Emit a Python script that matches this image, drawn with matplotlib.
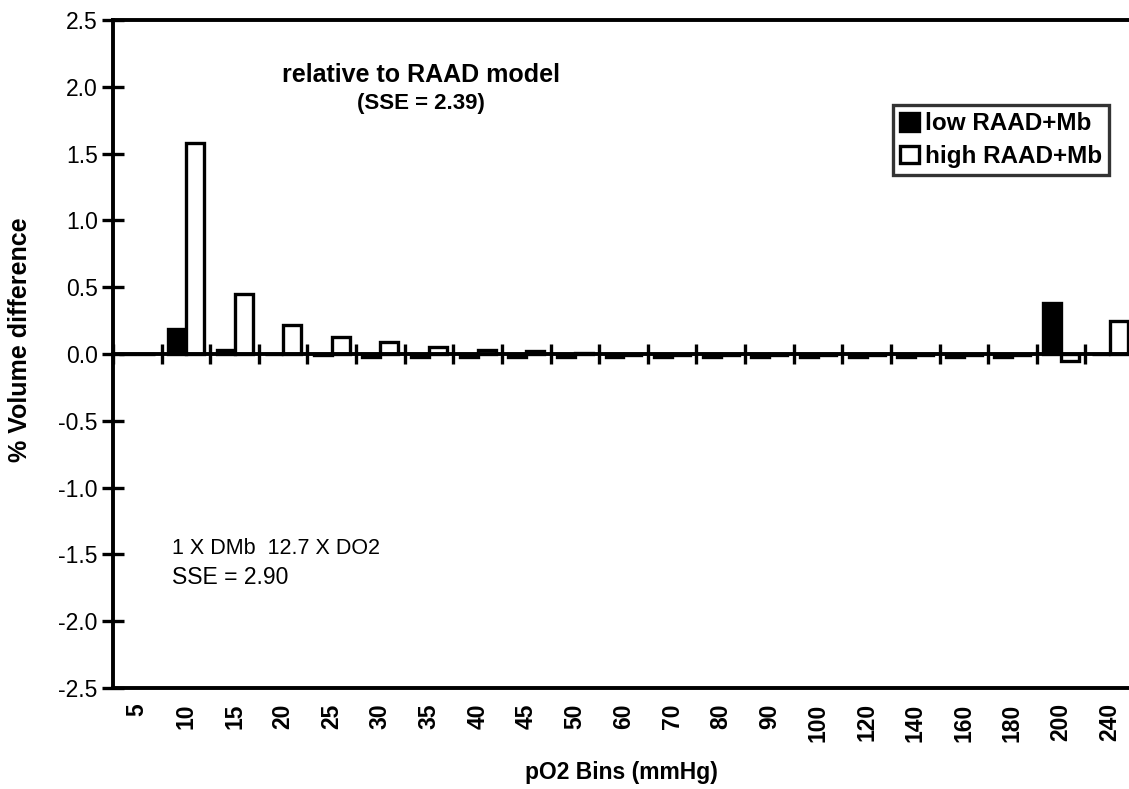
import matplotlib
matplotlib.use("Agg")
import matplotlib.pyplot as plt
import numpy as np

categories = ["5", "10", "15", "20", "25", "30", "35", "40", "45", "50", "60",
              "70", "80", "90", "100", "120", "140", "160", "180", "200", "240"]
low_vals = [0.0, 0.19, 0.03, 0.0, -0.01, -0.02, -0.02, -0.02, -0.02, -0.02, -0.02,
            -0.02, -0.02, -0.02, -0.02, -0.02, -0.02, -0.02, -0.02, 0.38, 0.0]
high_vals = [0.0, 1.58, 0.45, 0.22, 0.13, 0.09, 0.05, 0.03, 0.02, 0.01, -0.01,
             -0.01, -0.01, -0.01, -0.01, -0.01, -0.01, -0.01, -0.01, -0.05, 0.25]
yticks = [2.5, 2.0, 1.5, 1.0, 0.5, 0.0, -0.5, -1.0, -1.5, -2.0, -2.5]

plt.rcParams['font.family'] = ['Liberation Sans', 'DejaVu Sans']
W, H = 1129, 789
fig = plt.figure(figsize=(W / 100, H / 100), dpi=100)
ax = fig.add_axes([113 / W, 101 / H, (1134 - 113) / W, (688 - 20) / H])

x = np.arange(len(categories))
bw = 0.37
lw = 2.4
ax.bar(x - bw / 2, low_vals, bw, color='black', edgecolor='black', linewidth=lw,
       label='low RAAD+Mb', zorder=3)
ax.bar(x + bw / 2, high_vals, bw, color='white', edgecolor='black', linewidth=lw,
       label='high RAAD+Mb', zorder=3)

ax.set_xlim(-0.5, len(categories) - 0.5)
ax.set_ylim(-2.5, 2.5)

# zero category axis with boundary ticks
ax.spines['bottom'].set_position(('data', 0))
ax.spines['bottom'].set_linewidth(2.8)
ax.spines['bottom'].set_zorder(4)
ax.set_xticks(np.arange(-0.5, len(categories), 1.0))
ax.set_xticklabels([])
ax.tick_params(axis='x', direction='inout', length=14, width=2.4)

ax.spines['left'].set_linewidth(2.8)
ax.spines['top'].set_linewidth(2.8)
ax.spines['right'].set_visible(False)
ax.set_yticks(yticks)
ax.set_yticklabels([f"{v:.1f}" for v in yticks], fontsize=16.5)
ax.tick_params(axis='y', direction='inout', length=16, width=2.4, pad=3)

# bottom border with category labels
sec = ax.secondary_xaxis(location=0)
sec.set_xticks(x)
sec.set_xticklabels(categories, rotation=90, fontsize=16.5, fontweight='bold')
sec.tick_params(length=0, pad=11)
sec.spines['bottom'].set_linewidth(2.8)

fig.text(20 / W, 1 - 340 / H, '% Volume difference', fontsize=18, fontweight='bold',
         rotation=90, ha='center', va='center')
fig.text(621 / W, 1 - 772 / H, 'pO2 Bins (mmHg)', fontsize=16.5, fontweight='bold',
         ha='center', va='center')

fig.text(421 / W, 1 - 75 / H, 'relative to RAAD model', fontsize=18, fontweight='bold',
         ha='center', va='center')
fig.text(421 / W, 1 - 104 / H, '(SSE = 2.39)', fontsize=16, fontweight='bold',
         ha='center', va='center')
fig.text(172 / W, 1 - 548 / H, '1 X DMb  12.7 X DO2', fontsize=15.5, ha='left', va='center')
fig.text(172 / W, 1 - 578 / H, 'SSE = 2.90', fontsize=16.5, ha='left', va='center')

leg = ax.legend(loc='upper left', bbox_to_anchor=(893 / W, 1 - 105 / H),
                bbox_transform=fig.transFigure, frameon=True, fancybox=False,
                fontsize=17.5, handlelength=0.75, handleheight=0.75, handletextpad=0.25,
                borderpad=0.3, labelspacing=0.4, borderaxespad=0)
leg.get_frame().set_edgecolor('black')
leg.get_frame().set_linewidth(2.4)
for t in leg.get_texts():
    t.set_fontweight('bold')
for p in leg.get_patches():
    p.set_linewidth(2.4)

fig.savefig('out.png', dpi=100)
